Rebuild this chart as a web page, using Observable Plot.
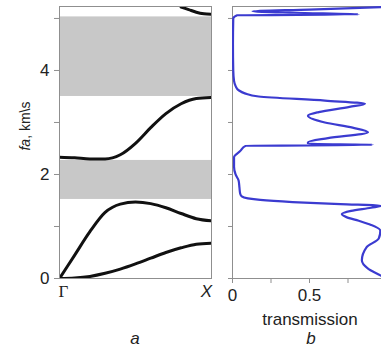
<!DOCTYPE html>
<html>
<head>
<meta charset="utf-8">
<script src="https://cdn.jsdelivr.net/npm/d3@7"></script>
<script src="https://cdn.jsdelivr.net/npm/@observablehq/plot@0.6"></script>
<style>
  html, body { margin: 0; padding: 0; background: #fff; overflow: hidden; }
  #wrap { position: relative; width: 381px; height: 353px; overflow: hidden;
          font-family: "Liberation Sans", Arial, sans-serif; color: #222; }
  #left, #right { position: absolute; top: 0; }
  #left { left: 0; width: 215px; }
  #right { left: 200px; width: 196px; }
  #wrap svg { max-width: none !important; }
  .lbl { position: absolute; font-size: 17px; line-height: 17px; white-space: nowrap; }
  #ylab { position: absolute; font-size: 14px; line-height: 14px; white-space: nowrap;
          left: 25px; top: 126px; transform: translate(-50%, -50%) rotate(-90deg); }
</style>
</head>
<body>
<div id="wrap">
  <div id="left"></div>
  <div id="right"></div>
  <div id="ylab"><i>fa</i>, km\s</div>
  <div class="lbl" style="left:310px; top:311px; transform:translateX(-50%);">transmission</div>
  <div class="lbl" style="left:135px; top:330px; transform:translateX(-50%);"><i>a</i></div>
  <div class="lbl" style="left:311px; top:330px; transform:translateX(-50%);"><i>b</i></div>
</div>
<script>
// ---- Panel a: band structure ----
const kValues = [0, 0.1, 0.2, 0.3, 0.4, 0.5, 0.6, 0.7, 0.8, 0.9, 1.0];
const band1 = [0.00, 0.01, 0.04, 0.10, 0.18, 0.28, 0.39, 0.50, 0.59, 0.66, 0.68];
const band2 = [0.00, 0.45, 0.90, 1.27, 1.43, 1.47, 1.44, 1.36, 1.25, 1.15, 1.11];
const band3 = [2.33, 2.32, 2.30, 2.30, 2.38, 2.60, 2.90, 3.17, 3.36, 3.46, 3.48];
const band4k = [0.80, 0.85, 0.90, 0.95, 1.00];
const band4 = [5.22, 5.17, 5.12, 5.09, 5.08];
const gapLow = [1.52, 3.50];
const gapHigh = [2.27, 5.03];
const yTicks = [0, 1, 2, 3, 4, 5];
const yTickLabels = ["0", "", "2", "", "4", ""];
const kTicks = [0, 1];
const kTickLabels = ["Γ", "X"];

// ---- Panel b: transmission ----
const transF = [0.00, 0.06, 0.19, 0.35, 0.60, 0.77, 0.92, 1.03, 1.11, 1.18, 1.24, 1.30, 1.36, 1.40,
  1.43, 1.47, 1.51, 1.54, 1.58, 1.63, 1.75, 1.88, 2.00, 2.15, 2.33, 2.45, 2.55, 2.57, 2.59,
  2.62, 2.70, 2.81, 2.90, 3.00, 3.13, 3.20, 3.30, 3.36, 3.42, 3.50, 3.56, 3.62, 3.70, 3.80,
  4.00, 4.50, 5.00, 5.06, 5.08, 5.11, 5.14, 5.17, 5.22];
const transT = [0.99, 0.96, 0.88, 0.84, 0.87, 0.95, 0.96, 0.90, 0.82, 0.74, 0.71, 0.77, 0.90, 0.97,
  0.70, 0.39, 0.18, 0.10, 0.06, 0.05, 0.045, 0.04, 0.02, 0.01, 0.01, 0.05, 0.085, 0.91, 0.49,
  0.49, 0.62, 0.88, 0.78, 0.60, 0.49, 0.56, 0.76, 0.86, 0.60, 0.17, 0.08, 0.04, 0.02, 0.01,
  0.005, 0.003, 0.005, 0.03, 0.82, 0.40, 0.13, 0.50, 1.00];
const tTicks = [0, 0.25, 0.5, 0.75, 1];
const tTickLabels = ["0", "", "0.5", "", ""];

const fDomain = [0, 5.23];
const font = "'Liberation Sans', Arial, sans-serif";
const frameGray = "#8f8f8f";

const bands = [
  ...kValues.map((k, i) => ({band: 1, k, f: band1[i]})),
  ...kValues.map((k, i) => ({band: 2, k, f: band2[i]})),
  ...kValues.map((k, i) => ({band: 3, k, f: band3[i]})),
  ...band4k.map((k, i) => ({band: 4, k, f: band4[i]}))
];
const gaps = gapLow.map((lo, i) => ({lo, hi: gapHigh[i]}));
const trans = transF.map((f, i) => ({f, t: transT[i]}));

const left = Plot.plot({
  width: 215, height: 300,
  marginLeft: 59, marginRight: 4, marginTop: 6, marginBottom: 22,
  x: {domain: [0, 1], axis: null},
  y: {domain: fDomain, axis: null},
  style: {fontFamily: font, fontSize: "17px", color: "#222", background: "transparent", overflow: "visible"},
  marks: [
    Plot.rect(gaps, {y1: "lo", y2: "hi", fill: "#c8c8c8"}),
    Plot.line(bands, {x: "k", y: "f", z: "band", stroke: "#111", strokeWidth: 3, curve: "monotone-x", clip: true}),
    Plot.frame({stroke: frameGray}),
    Plot.axisY({ticks: yTicks, tickFormat: d => yTickLabels[yTicks.indexOf(d)], tickSize: 5, tickPadding: 5, stroke: frameGray, fill: "#222", label: null}),
    Plot.axisX({ticks: [kTicks[0]], tickFormat: () => kTickLabels[0], tickSize: 0, tickPadding: 6, dx: 4, fill: "#222", fontFamily: "'Liberation Serif', serif", label: null}),
    Plot.axisX({ticks: [kTicks[1]], tickFormat: () => kTickLabels[1], tickSize: 0, tickPadding: 6, dx: -5, fontStyle: "italic", fill: "#222", label: null})
  ]
});
document.getElementById("left").appendChild(left);

const right = Plot.plot({
  width: 196, height: 300,
  marginLeft: 32, marginRight: 10, marginTop: 6, marginBottom: 22,
  x: {domain: [0, 1], axis: null},
  y: {domain: fDomain, axis: null},
  style: {fontFamily: font, fontSize: "17px", color: "#222", background: "transparent", overflow: "visible"},
  marks: [
    Plot.frame({stroke: frameGray}),
    Plot.line(trans, {x: "t", y: "f", stroke: "#3b3bd0", strokeWidth: 2.2, curve: "monotone-y", clip: true}),
    Plot.axisY({ticks: yTicks, tickFormat: () => "", tickSize: 4, stroke: frameGray, label: null}),
    Plot.axisX({ticks: tTicks, tickFormat: d => tTickLabels[tTicks.indexOf(d)], tickSize: 5, tickPadding: 5, stroke: frameGray, fill: "#222", label: null})
  ]
});
document.getElementById("right").appendChild(right);
</script>
</body>
</html>
